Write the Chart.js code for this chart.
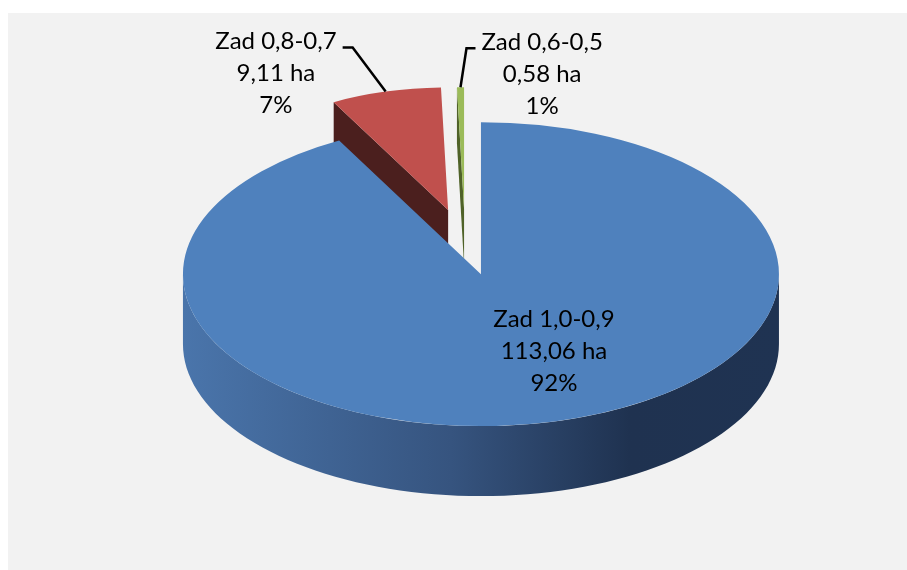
<!DOCTYPE html>
<html>
<head>
<meta charset="utf-8">
<script src="https://cdn.jsdelivr.net/npm/chart.js@4/dist/chart.umd.min.js"></script>
<style>
    html, body { margin: 0; padding: 0; background: #ffffff; }
    #panel { position: absolute; left: 8px; top: 13px; width: 899px; height: 557px; background: #f2f2f2; }
    #chart { position: absolute; left: 0; top: 0; }
</style>
</head>
<body>
<div id="panel"></div>
<canvas id="chart" width="907" height="570"></canvas>
<script>
// Chart data
const categories = ['Zad 1,0-0,9', 'Zad 0,8-0,7', 'Zad 0,6-0,5'];
const areas = [113.06, 9.11, 0.58];
const areaLabels = ['113,06 ha', '9,11 ha', '0,58 ha'];
const shares = [92, 7, 1];

// Look of the 3D pie
const topColors = ['#4f81bd', '#c0504d', '#9bbb59'];
const sideColors = [null, '#4b1f1e', '#4f6228'];
const TILT = 0.51;      // vertical squash of the pie
const DEPTH = 70;       // thickness in px
const EXPLODE = 65;     // slice explosion
const FONT = '24px Lato';
const LINE_H = 32;

// slices pushed toward the back look a bit smaller
function shrink(mid) {
    return 1 - 0.2 * Math.max(0, -Math.sin(mid));
}

function sliceGeom(arc) {
    const mid = (arc.startAngle + arc.endAngle) / 2;
    const s = shrink(mid);
    return {
        mid: mid,
        s: s,
        ox: arc.x + EXPLODE * Math.cos(mid),
        oy: arc.y + TILT * EXPLODE * Math.sin(mid)
    };
}

function proj(arc, g, ang, r, z) {
    return [g.ox + g.s * r * Math.cos(ang), g.oy + g.s * (TILT * r * Math.sin(ang) + z)];
}

function fillPoly(ctx, pts, fill) {
    ctx.beginPath();
    ctx.moveTo(pts[0][0], pts[0][1]);
    for (let k = 1; k < pts.length; k++) ctx.lineTo(pts[k][0], pts[k][1]);
    ctx.closePath();
    ctx.fillStyle = fill;
    ctx.fill();
}

function drawSides(chart, arc, i) {
    const ctx = chart.ctx;
    const g = sliceGeom(arc);
    const R = arc.outerRadius;
    const a = arc.startAngle, b = arc.endAngle;

    // cut faces
    if (Math.cos(a) < 0) {
        fillPoly(ctx, [proj(arc, g, a, 0, 0), proj(arc, g, a, R, 0), proj(arc, g, a, R, DEPTH), proj(arc, g, a, 0, DEPTH)],
            sideColors[i] || '#1f3350');
    }
    if (Math.cos(b) > 0) {
        fillPoly(ctx, [proj(arc, g, b, 0, 0), proj(arc, g, b, R, 0), proj(arc, g, b, R, DEPTH), proj(arc, g, b, 0, DEPTH)],
            sideColors[i] || '#1f3350');
    }

    // outer rim on the front half
    for (let n = -1; n <= 1; n++) {
        const lo = Math.max(a, n * 2 * Math.PI);
        const hi = Math.min(b, n * 2 * Math.PI + Math.PI);
        if (hi <= lo) continue;
        const steps = 80;
        const pts = [];
        for (let k = 0; k <= steps; k++) pts.push(proj(arc, g, lo + (hi - lo) * k / steps, R, 0));
        for (let k = steps; k >= 0; k--) pts.push(proj(arc, g, lo + (hi - lo) * k / steps, R, DEPTH));
        let fill = sideColors[i];
        if (i === 0) {
            const left = g.ox - g.s * R, right = g.ox + g.s * R;
            fill = ctx.createLinearGradient(left, 0, right, 0);
            fill.addColorStop(0, '#4a75ab');
            fill.addColorStop(0.45, '#36547f');
            fill.addColorStop(0.75, '#1f3250');
            fill.addColorStop(1, '#1f3352');
        }
        fillPoly(ctx, pts, fill);
    }
}

// label placement: [anchor kind, dx, dy]
const labelStyle = [
    { inside: true, dx: 73, dy: 77 },
    { inside: false, ex: -33, ey: -44, hx: -10 },
    { inside: false, ex: 6, ey: -39, hx: 9 }
];

function labelLines(i) {
    return [categories[i], areaLabels[i], shares[i] + '%'];
}

const pie3d = {
    id: 'pie3d',
    beforeDatasetsDraw(chart) {
        const ctx = chart.ctx;
        const arcs = chart.getDatasetMeta(0).data;
        ctx.save();
        arcs.forEach((arc, i) => drawSides(chart, arc, i));
        arcs.forEach((arc) => {
            const g = sliceGeom(arc);
            ctx.save();
            ctx.translate(g.ox, g.oy);
            ctx.scale(g.s, TILT * g.s);
            ctx.translate(-arc.x, -arc.y);
            arc.draw(ctx);
            ctx.restore();
        });
        ctx.restore();
        return false;
    },
    afterDraw(chart) {
        const ctx = chart.ctx;
        const arcs = chart.getDatasetMeta(0).data;
        ctx.save();
        ctx.font = FONT;
        ctx.fillStyle = '#000000';
        ctx.textBaseline = 'middle';
        ctx.textAlign = 'center';
        arcs.forEach((arc, i) => {
            const g = sliceGeom(arc);
            const st = labelStyle[i];
            const lines = labelLines(i);
            let cx, cy;
            if (st.inside) {
                cx = g.ox + st.dx;
                cy = g.oy + st.dy;
            } else {
                const p = proj(arc, g, g.mid, arc.outerRadius, 0);
                const elbow = [p[0] + st.ex, p[1] + st.ey];
                const end = [elbow[0] + st.hx, elbow[1]];
                ctx.beginPath();
                ctx.moveTo(p[0], p[1]);
                ctx.lineTo(elbow[0], elbow[1]);
                ctx.lineTo(end[0], end[1]);
                ctx.strokeStyle = '#000000';
                ctx.lineWidth = 2.5;
                ctx.stroke();
                const w = ctx.measureText(lines[0]).width;
                cx = end[0] + Math.sign(st.hx) * (6 + w / 2);
                cy = end[1] - 6 + LINE_H;
            }
            lines.forEach((t, k) => ctx.fillText(t, cx, cy + (k - 1) * LINE_H));
        });
        ctx.restore();
    }
};

new Chart(document.getElementById('chart'), {
    type: 'pie',
    data: {
        labels: categories,
        datasets: [{
            data: areas,
            backgroundColor: topColors,
            borderWidth: 0,
            radius: 298
        }]
    },
    options: {
        responsive: false,
        animation: false,
        layout: { padding: { left: 23, right: 0, top: 0, bottom: 86 } },
        plugins: {
            legend: { display: false },
            tooltip: { enabled: false }
        }
    },
    plugins: [pie3d]
});
</script>
</body>
</html>
